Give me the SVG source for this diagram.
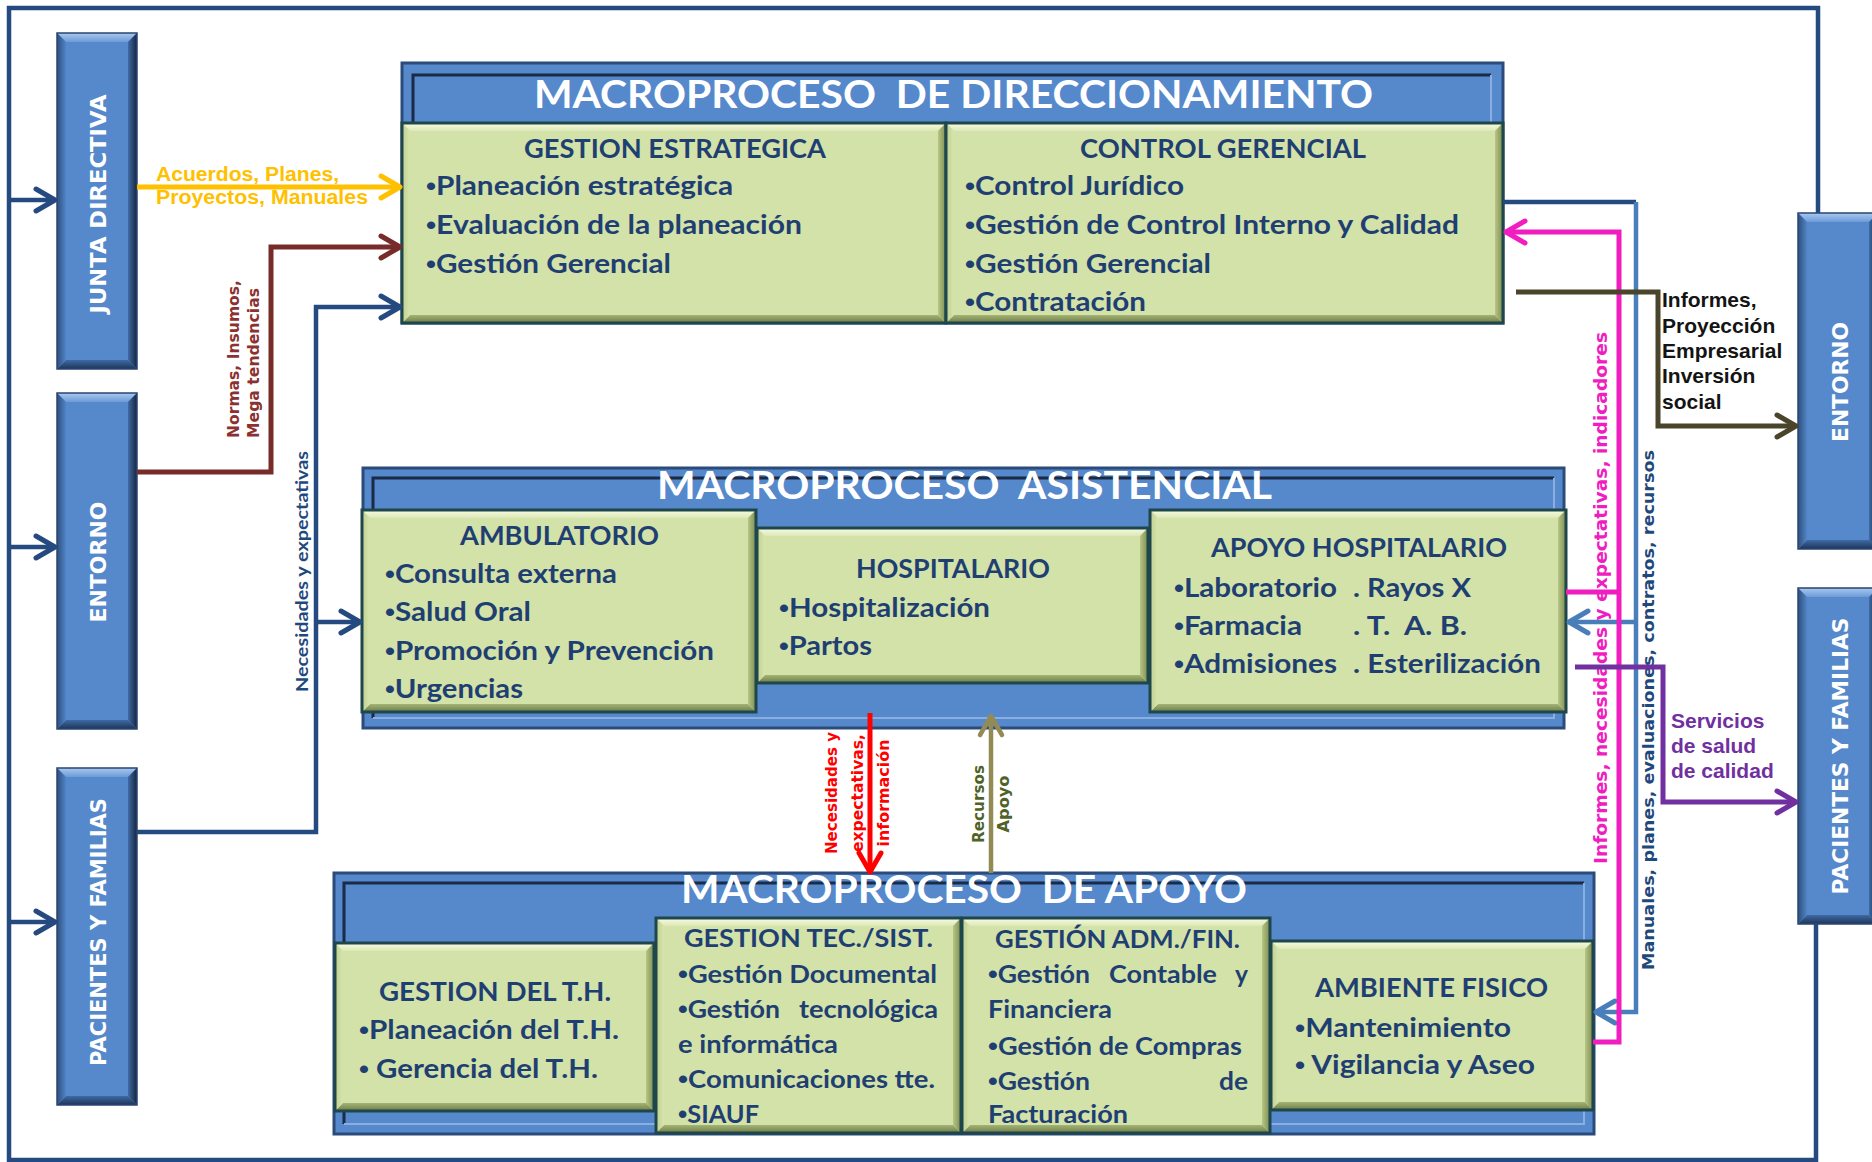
<svg xmlns="http://www.w3.org/2000/svg" width="1872" height="1162" viewBox="0 0 1872 1162">
<defs>
<linearGradient id="gBT" x1="0" y1="0" x2="0" y2="1"><stop offset="0" stop-color="#A9C8EE"/><stop offset="1" stop-color="#6C9BD8"/></linearGradient>
<linearGradient id="gBL" x1="0" y1="0" x2="1" y2="0"><stop offset="0" stop-color="#2D4E7E"/><stop offset="1" stop-color="#5285C6"/></linearGradient>
<linearGradient id="gBR" x1="0" y1="0" x2="1" y2="0"><stop offset="0" stop-color="#3F6BA6"/><stop offset="1" stop-color="#15253D"/></linearGradient>
<linearGradient id="gBB" x1="0" y1="0" x2="0" y2="1"><stop offset="0" stop-color="#3E6AA4"/><stop offset="1" stop-color="#1E3558"/></linearGradient>
<linearGradient id="gGT" x1="0" y1="0" x2="0" y2="1"><stop offset="0" stop-color="#FAFCE2"/><stop offset="1" stop-color="#DCE8B6"/></linearGradient>
<linearGradient id="gGL" x1="0" y1="0" x2="1" y2="0"><stop offset="0" stop-color="#BFD08E"/><stop offset="1" stop-color="#D6E5AE"/></linearGradient>
<linearGradient id="gGR" x1="0" y1="0" x2="1" y2="0"><stop offset="0" stop-color="#B7C684"/><stop offset="1" stop-color="#7D8C52"/></linearGradient>
<linearGradient id="gGB" x1="0" y1="0" x2="0" y2="1"><stop offset="0" stop-color="#A4B474"/><stop offset="1" stop-color="#6E7C47"/></linearGradient>
<marker id="aNavy" markerUnits="userSpaceOnUse" markerWidth="30" markerHeight="30" viewBox="-25 -15 30 30" refX="0" refY="0" orient="auto"><path d="M-19,-11 L0,0 L-19,11" fill="none" stroke="#254A7F" stroke-width="5" stroke-linecap="round" stroke-linejoin="round"/></marker>
<marker id="aYel" markerUnits="userSpaceOnUse" markerWidth="30" markerHeight="30" viewBox="-25 -15 30 30" refX="0" refY="0" orient="auto"><path d="M-19,-11 L0,0 L-19,11" fill="none" stroke="#FFC000" stroke-width="5" stroke-linecap="round" stroke-linejoin="round"/></marker>
<marker id="aBrn" markerUnits="userSpaceOnUse" markerWidth="30" markerHeight="30" viewBox="-25 -15 30 30" refX="0" refY="0" orient="auto"><path d="M-19,-11 L0,0 L-19,11" fill="none" stroke="#772C2A" stroke-width="5" stroke-linecap="round" stroke-linejoin="round"/></marker>
<marker id="aBlu" markerUnits="userSpaceOnUse" markerWidth="30" markerHeight="30" viewBox="-25 -15 30 30" refX="0" refY="0" orient="auto"><path d="M-19,-11 L0,0 L-19,11" fill="none" stroke="#4A7EBB" stroke-width="5" stroke-linecap="round" stroke-linejoin="round"/></marker>
<marker id="aMag" markerUnits="userSpaceOnUse" markerWidth="30" markerHeight="30" viewBox="-25 -15 30 30" refX="0" refY="0" orient="auto"><path d="M-19,-11 L0,0 L-19,11" fill="none" stroke="#F01DC0" stroke-width="5" stroke-linecap="round" stroke-linejoin="round"/></marker>
<marker id="aPur" markerUnits="userSpaceOnUse" markerWidth="30" markerHeight="30" viewBox="-25 -15 30 30" refX="0" refY="0" orient="auto"><path d="M-19,-11 L0,0 L-19,11" fill="none" stroke="#7030A0" stroke-width="5" stroke-linecap="round" stroke-linejoin="round"/></marker>
<marker id="aOlv" markerUnits="userSpaceOnUse" markerWidth="30" markerHeight="30" viewBox="-25 -15 30 30" refX="0" refY="0" orient="auto"><path d="M-19,-11 L0,0 L-19,11" fill="none" stroke="#4A452A" stroke-width="5" stroke-linecap="round" stroke-linejoin="round"/></marker>
<marker id="aRed" markerUnits="userSpaceOnUse" markerWidth="30" markerHeight="30" viewBox="-25 -15 30 30" refX="0" refY="0" orient="auto"><path d="M-19,-11 L0,0 L-19,11" fill="none" stroke="#FF0000" stroke-width="5" stroke-linecap="round" stroke-linejoin="round"/></marker>
<marker id="aKha" markerUnits="userSpaceOnUse" markerWidth="30" markerHeight="30" viewBox="-25 -15 30 30" refX="0" refY="0" orient="auto"><path d="M-19,-11 L0,0 L-19,11" fill="none" stroke="#948A54" stroke-width="4.5" stroke-linecap="round" stroke-linejoin="round"/></marker>
</defs>
<style>
.bf{fill:#5689CB}
.bt{fill:url(#gBT)}
.bl{fill:url(#gBL)}
.br{fill:url(#gBR)}
.bb{fill:url(#gBB)}
.bo{fill:none;stroke:#2A4670;stroke-width:1.5}
.nt{font-family:"DejaVu Sans","Liberation Sans",sans-serif;font-weight:bold;font-size:22px;fill:#FFFFFF}
.gf{fill:#D2E2A8}
.gt{fill:url(#gGT)}
.gl{fill:url(#gGL)}
.gr{fill:url(#gGR)}
.gb{fill:url(#gGB)}
.go{fill:none;stroke:#1E474C;stroke-width:3}
.mf{fill:#5689CB;stroke:#2B4B7B;stroke-width:3}
.mdk{fill:none;stroke:#1B2B45;stroke-width:3}
.mlt{fill:none;stroke:#8AAEDF;stroke-width:2}
.mt{font-family:Lato,"Liberation Sans",sans-serif;font-weight:bold;font-size:39px;fill:#FFFFFF}
.ht{font-family:Lato,"Liberation Sans",sans-serif;font-weight:bold;font-size:26px;fill:#1F3F72}
.it{font-family:Lato,"Liberation Sans",sans-serif;font-weight:bold;font-size:26px;fill:#1F3F72}
.is{font-family:Lato,"Liberation Sans",sans-serif;font-weight:bold;font-size:24px;fill:#1F3F72}
.bu{font-family:"Liberation Sans",sans-serif;font-weight:bold;font-size:25px}
.cn{fill:none;stroke-linejoin:miter}
.cNavy{stroke:#254A7F;stroke-width:4.5}
.cYel{stroke:#FFC000;stroke-width:5}
.cBrn{stroke:#772C2A;stroke-width:5}
.cBlu{stroke:#4A7EBB;stroke-width:4.5}
.cMag{stroke:#F01DC0;stroke-width:5}
.cPur{stroke:#7030A0;stroke-width:5}
.cOlv{stroke:#4A452A;stroke-width:5}
.cRed{stroke:#FF0000;stroke-width:5}
.cKha{stroke:#948A54;stroke-width:4.5}
.lyel{font-family:"Liberation Sans",Arial,sans-serif;font-weight:bold;font-size:20px;fill:#FFC000}
.lbrn{font-family:"DejaVu Sans",sans-serif;font-weight:bold;font-size:15px;fill:#8B3130}
.lnav{font-family:Lato,"Liberation Sans",sans-serif;font-weight:bold;font-size:17px;fill:#1F497D}
.lblu{font-family:"DejaVu Sans",sans-serif;font-weight:bold;font-size:16.5px;fill:#1F497D}
.lmag{font-family:"DejaVu Sans",sans-serif;font-weight:bold;font-size:17.5px;fill:#F01DC0}
.lpur{font-family:"Liberation Sans",Arial,sans-serif;font-weight:bold;font-size:21px;fill:#7030A0}
.lblk{font-family:"Liberation Sans",Arial,sans-serif;font-weight:bold;font-size:21px;fill:#141414}
.lred{font-family:"DejaVu Sans",sans-serif;font-weight:bold;font-size:15px;fill:#FF0000}
.lolv{font-family:"DejaVu Sans",sans-serif;font-weight:bold;font-size:15px;fill:#4F6228}
</style>
<rect x="0" y="0" width="1872" height="1162" fill="#FFFFFF"/>

<!-- Macro containers -->
<g id="macro-direccionamiento">
<rect class="mf" x="402" y="63" width="1101" height="260"/>
<path class="mdk" d="M413,123 V75 H1491"/>
<path class="mlt" d="M1491,75 V123"/>
<text class="mt" x="534" y="108" textLength="839" lengthAdjust="spacingAndGlyphs" xml:space="preserve">MACROPROCESO  DE DIRECCIONAMIENTO</text>
</g>
<g id="macro-asistencial">
<rect class="mf" x="363" y="468" width="1201" height="260"/>
<path class="mdk" d="M373,718 V478 H1554"/>
<path class="mlt" d="M1554,478 V718 H373"/>
<text class="mt" x="657" y="499" textLength="615" lengthAdjust="spacingAndGlyphs" xml:space="preserve">MACROPROCESO  ASISTENCIAL</text>
</g>
<g id="macro-apoyo">
<rect class="mf" x="334" y="873" width="1260" height="261"/>
<path class="mdk" d="M344,1124 V883 H1584"/>
<path class="mlt" d="M1584,883 V1124 H344"/>
<text class="mt" x="681" y="903" textLength="566" lengthAdjust="spacingAndGlyphs" xml:space="preserve">MACROPROCESO  DE APOYO</text>
</g>

<!-- Left / right blue nodes -->
<g id="junta-directiva">
<rect class="bf" x="57" y="33" width="80" height="336"/>
<polygon class="bt" points="57,33 137,33 128,42 66,42"/>
<polygon class="bb" points="57,369 137,369 128,360 66,360"/>
<polygon class="bl" points="57,33 66,42 66,360 57,369"/>
<polygon class="br" points="137,33 128,42 128,360 137,369"/>
<rect class="bo" x="57" y="33" width="80" height="336"/>
<text class="nt" transform="translate(106,204) rotate(-90)" text-anchor="middle" textLength="219" lengthAdjust="spacingAndGlyphs">JUNTA DIRECTIVA</text>
</g>
<g id="entorno-izq">
<rect class="bf" x="57" y="393" width="80" height="336"/>
<polygon class="bt" points="57,393 137,393 128,402 66,402"/>
<polygon class="bb" points="57,729 137,729 128,720 66,720"/>
<polygon class="bl" points="57,393 66,402 66,720 57,729"/>
<polygon class="br" points="137,393 128,402 128,720 137,729"/>
<rect class="bo" x="57" y="393" width="80" height="336"/>
<text class="nt" transform="translate(106,562) rotate(-90)" text-anchor="middle" textLength="121" lengthAdjust="spacingAndGlyphs">ENTORNO</text>
</g>
<g id="pacientes-izq">
<rect class="bf" x="57" y="768" width="80" height="337"/>
<polygon class="bt" points="57,768 137,768 128,777 66,777"/>
<polygon class="bb" points="57,1105 137,1105 128,1096 66,1096"/>
<polygon class="bl" points="57,768 66,777 66,1096 57,1105"/>
<polygon class="br" points="137,768 128,777 128,1096 137,1105"/>
<rect class="bo" x="57" y="768" width="80" height="337"/>
<text class="nt" transform="translate(106,932) rotate(-90)" text-anchor="middle" textLength="268" lengthAdjust="spacingAndGlyphs">PACIENTES Y FAMILIAS</text>
</g>
<g id="entorno-der">
<rect class="bf" x="1798" y="213" width="80" height="336"/>
<polygon class="bt" points="1798,213 1878,213 1869,222 1807,222"/>
<polygon class="bb" points="1798,549 1878,549 1869,540 1807,540"/>
<polygon class="bl" points="1798,213 1807,222 1807,540 1798,549"/>
<polygon class="br" points="1878,213 1869,222 1869,540 1878,549"/>
<rect class="bo" x="1798" y="213" width="80" height="336"/>
<text class="nt" transform="translate(1848,382) rotate(-90)" text-anchor="middle" textLength="120" lengthAdjust="spacingAndGlyphs">ENTORNO</text>
</g>
<g id="pacientes-der">
<rect class="bf" x="1798" y="588" width="80" height="336"/>
<polygon class="bt" points="1798,588 1878,588 1869,597 1807,597"/>
<polygon class="bb" points="1798,924 1878,924 1869,915 1807,915"/>
<polygon class="bl" points="1798,588 1807,597 1807,915 1798,924"/>
<polygon class="br" points="1878,588 1869,597 1869,915 1878,924"/>
<rect class="bo" x="1798" y="588" width="80" height="336"/>
<text class="nt" transform="translate(1848,756) rotate(-90)" text-anchor="middle" textLength="277" lengthAdjust="spacingAndGlyphs">PACIENTES Y FAMILIAS</text>
</g>

<!-- Green process nodes: DIRECCIONAMIENTO -->
<g id="gestion-estrategica">
<rect class="gf" x="402" y="123" width="544" height="200"/>
<polygon class="gt" points="402,123 946,123 938,131 410,131"/>
<polygon class="gb" points="402,323 946,323 938,315 410,315"/>
<polygon class="gl" points="402,123 410,131 410,315 402,323"/>
<polygon class="gr" points="946,123 938,131 938,315 946,323"/>
<rect class="go" x="402" y="123" width="544" height="200"/>
<text class="ht" x="524" y="158" textLength="302" lengthAdjust="spacingAndGlyphs">GESTION ESTRATEGICA</text>
<text class="it" x="426" y="195" textLength="307" lengthAdjust="spacingAndGlyphs"><tspan class="bu">•</tspan>Planeación estratégica</text>
<text class="it" x="426" y="234" textLength="376" lengthAdjust="spacingAndGlyphs"><tspan class="bu">•</tspan>Evaluación de la planeación</text>
<text class="it" x="426" y="273" textLength="245" lengthAdjust="spacingAndGlyphs"><tspan class="bu">•</tspan>Gestión Gerencial</text>
</g>
<g id="control-gerencial">
<rect class="gf" x="946" y="123" width="557" height="200"/>
<polygon class="gt" points="946,123 1503,123 1495,131 954,131"/>
<polygon class="gb" points="946,323 1503,323 1495,315 954,315"/>
<polygon class="gl" points="946,123 954,131 954,315 946,323"/>
<polygon class="gr" points="1503,123 1495,131 1495,315 1503,323"/>
<rect class="go" x="946" y="123" width="557" height="200"/>
<text class="ht" x="1080" y="158" textLength="286" lengthAdjust="spacingAndGlyphs">CONTROL GERENCIAL</text>
<text class="it" x="965" y="195" textLength="219" lengthAdjust="spacingAndGlyphs"><tspan class="bu">•</tspan>Control Jurídico</text>
<text class="it" x="965" y="234" textLength="494" lengthAdjust="spacingAndGlyphs"><tspan class="bu">•</tspan>Gestión de Control Interno y Calidad</text>
<text class="it" x="965" y="273" textLength="246" lengthAdjust="spacingAndGlyphs"><tspan class="bu">•</tspan>Gestión Gerencial</text>
<text class="it" x="965" y="311" textLength="181" lengthAdjust="spacingAndGlyphs"><tspan class="bu">•</tspan>Contratación</text>
</g>

<!-- ASISTENCIAL -->
<g id="ambulatorio">
<rect class="gf" x="362" y="510" width="394" height="202"/>
<polygon class="gt" points="362,510 756,510 748,518 370,518"/>
<polygon class="gb" points="362,712 756,712 748,704 370,704"/>
<polygon class="gl" points="362,510 370,518 370,704 362,712"/>
<polygon class="gr" points="756,510 748,518 748,704 756,712"/>
<rect class="go" x="362" y="510" width="394" height="202"/>
<text class="ht" x="460" y="545" textLength="199" lengthAdjust="spacingAndGlyphs">AMBULATORIO</text>
<text class="it" x="385" y="583" textLength="232" lengthAdjust="spacingAndGlyphs"><tspan class="bu">•</tspan>Consulta externa</text>
<text class="it" x="385" y="621" textLength="146" lengthAdjust="spacingAndGlyphs"><tspan class="bu">•</tspan>Salud Oral</text>
<text class="it" x="385" y="660" textLength="329" lengthAdjust="spacingAndGlyphs"><tspan class="bu">•</tspan>Promoción y Prevención</text>
<text class="it" x="385" y="698" textLength="138" lengthAdjust="spacingAndGlyphs"><tspan class="bu">•</tspan>Urgencias</text>
</g>
<g id="hospitalario">
<rect class="gf" x="757" y="528" width="391" height="155"/>
<polygon class="gt" points="757,528 1148,528 1140,536 765,536"/>
<polygon class="gb" points="757,683 1148,683 1140,675 765,675"/>
<polygon class="gl" points="757,528 765,536 765,675 757,683"/>
<polygon class="gr" points="1148,528 1140,536 1140,675 1148,683"/>
<rect class="go" x="757" y="528" width="391" height="155"/>
<text class="ht" x="856" y="578" textLength="194" lengthAdjust="spacingAndGlyphs">HOSPITALARIO</text>
<text class="it" x="779" y="617" textLength="211" lengthAdjust="spacingAndGlyphs"><tspan class="bu">•</tspan>Hospitalización</text>
<text class="it" x="779" y="655" textLength="93" lengthAdjust="spacingAndGlyphs"><tspan class="bu">•</tspan>Partos</text>
</g>
<g id="apoyo-hospitalario">
<rect class="gf" x="1150" y="510" width="416" height="202"/>
<polygon class="gt" points="1150,510 1566,510 1558,518 1158,518"/>
<polygon class="gb" points="1150,712 1566,712 1558,704 1158,704"/>
<polygon class="gl" points="1150,510 1158,518 1158,704 1150,712"/>
<polygon class="gr" points="1566,510 1558,518 1558,704 1566,712"/>
<rect class="go" x="1150" y="510" width="416" height="202"/>
<text class="ht" x="1211" y="557" textLength="296" lengthAdjust="spacingAndGlyphs">APOYO HOSPITALARIO</text>
<text class="it" x="1174" y="597" textLength="163" lengthAdjust="spacingAndGlyphs"><tspan class="bu">•</tspan>Laboratorio</text>
<text class="it" x="1353" y="597" textLength="118" lengthAdjust="spacingAndGlyphs">. Rayos X</text>
<text class="it" x="1174" y="635" textLength="128" lengthAdjust="spacingAndGlyphs"><tspan class="bu">•</tspan>Farmacia</text>
<text class="it" x="1353" y="635" textLength="114" lengthAdjust="spacingAndGlyphs" xml:space="preserve">. T.  A. B.</text>
<text class="it" x="1174" y="673" textLength="163" lengthAdjust="spacingAndGlyphs"><tspan class="bu">•</tspan>Admisiones</text>
<text class="it" x="1353" y="673" textLength="188" lengthAdjust="spacingAndGlyphs">. Esterilización</text>
</g>

<!-- APOYO -->
<g id="gestion-th">
<rect class="gf" x="335" y="943" width="319" height="168"/>
<polygon class="gt" points="335,943 654,943 646,951 343,951"/>
<polygon class="gb" points="335,1111 654,1111 646,1103 343,1103"/>
<polygon class="gl" points="335,943 343,951 343,1103 335,1111"/>
<polygon class="gr" points="654,943 646,951 646,1103 654,1111"/>
<rect class="go" x="335" y="943" width="319" height="168"/>
<text class="ht" x="379" y="1001" textLength="232" lengthAdjust="spacingAndGlyphs">GESTION DEL T.H.</text>
<text class="it" x="359" y="1039" textLength="260" lengthAdjust="spacingAndGlyphs"><tspan class="bu">•</tspan>Planeación del T.H.</text>
<text class="it" x="359" y="1078" textLength="239" lengthAdjust="spacingAndGlyphs" xml:space="preserve"><tspan class="bu">•</tspan> Gerencia del T.H.</text>
</g>
<g id="gestion-tec-sist">
<rect class="gf" x="656" y="918" width="305" height="215"/>
<polygon class="gt" points="656,918 961,918 953,926 664,926"/>
<polygon class="gb" points="656,1133 961,1133 953,1125 664,1125"/>
<polygon class="gl" points="656,918 664,926 664,1125 656,1133"/>
<polygon class="gr" points="961,918 953,926 953,1125 961,1133"/>
<rect class="go" x="656" y="918" width="305" height="215"/>
<text class="is" x="684" y="947" textLength="249" lengthAdjust="spacingAndGlyphs">GESTION TEC./SIST.</text>
<text class="is" x="678" y="983" textLength="259" lengthAdjust="spacingAndGlyphs"><tspan class="bu">•</tspan>Gestión Documental</text>
<text class="is" x="678" y="1018" textLength="102" lengthAdjust="spacingAndGlyphs"><tspan class="bu">•</tspan>Gestión</text>
<text class="is" x="799" y="1018" textLength="139" lengthAdjust="spacingAndGlyphs">tecnológica</text>
<text class="is" x="678" y="1053" textLength="160" lengthAdjust="spacingAndGlyphs">e informática</text>
<text class="is" x="678" y="1088" textLength="257" lengthAdjust="spacingAndGlyphs"><tspan class="bu">•</tspan>Comunicaciones tte.</text>
<text class="is" x="678" y="1123" textLength="81" lengthAdjust="spacingAndGlyphs"><tspan class="bu">•</tspan>SIAUF</text>
</g>
<g id="gestion-adm-fin">
<rect class="gf" x="962" y="918" width="308" height="215"/>
<polygon class="gt" points="962,918 1270,918 1262,926 970,926"/>
<polygon class="gb" points="962,1133 1270,1133 1262,1125 970,1125"/>
<polygon class="gl" points="962,918 970,926 970,1125 962,1133"/>
<polygon class="gr" points="1270,918 1262,926 1262,1125 1270,1133"/>
<rect class="go" x="962" y="918" width="308" height="215"/>
<text class="is" x="995" y="948" textLength="245" lengthAdjust="spacingAndGlyphs">GESTIÓN ADM./FIN.</text>
<text class="is" x="988" y="983" textLength="102" lengthAdjust="spacingAndGlyphs"><tspan class="bu">•</tspan>Gestión</text>
<text class="is" x="1109" y="983" textLength="108" lengthAdjust="spacingAndGlyphs">Contable</text>
<text class="is" x="1235" y="983" textLength="13" lengthAdjust="spacingAndGlyphs">y</text>
<text class="is" x="988" y="1018" textLength="124" lengthAdjust="spacingAndGlyphs">Financiera</text>
<text class="is" x="988" y="1055" textLength="254" lengthAdjust="spacingAndGlyphs"><tspan class="bu">•</tspan>Gestión de Compras</text>
<text class="is" x="988" y="1090" textLength="102" lengthAdjust="spacingAndGlyphs"><tspan class="bu">•</tspan>Gestión</text>
<text class="is" x="1219" y="1090" textLength="29" lengthAdjust="spacingAndGlyphs">de</text>
<text class="is" x="988" y="1123" textLength="140" lengthAdjust="spacingAndGlyphs">Facturación</text>
</g>
<g id="ambiente-fisico">
<rect class="gf" x="1271" y="941" width="322" height="169"/>
<polygon class="gt" points="1271,941 1593,941 1585,949 1279,949"/>
<polygon class="gb" points="1271,1110 1593,1110 1585,1102 1279,1102"/>
<polygon class="gl" points="1271,941 1279,949 1279,1102 1271,1110"/>
<polygon class="gr" points="1593,941 1585,949 1585,1102 1593,1110"/>
<rect class="go" x="1271" y="941" width="322" height="169"/>
<text class="ht" x="1315" y="997" textLength="233" lengthAdjust="spacingAndGlyphs">AMBIENTE FISICO</text>
<text class="it" x="1295" y="1037" textLength="216" lengthAdjust="spacingAndGlyphs"><tspan class="bu">•</tspan>Mantenimiento</text>
<text class="it" x="1295" y="1074" textLength="240" lengthAdjust="spacingAndGlyphs" xml:space="preserve"><tspan class="bu">•</tspan> Vigilancia y Aseo</text>
</g>

<!-- Connectors -->
<g id="connectors">
<text class="lyel" x="156" y="181" textLength="183" lengthAdjust="spacingAndGlyphs">Acuerdos, Planes,</text>
<text class="lyel" x="156" y="204" textLength="212" lengthAdjust="spacingAndGlyphs">Proyectos, Manuales</text>
<text class="lbrn" transform="translate(239,438) rotate(-90)" textLength="158" lengthAdjust="spacingAndGlyphs">Normas, Insumos,</text>
<text class="lbrn" transform="translate(259,438) rotate(-90)" textLength="150" lengthAdjust="spacingAndGlyphs">Mega tendencias</text>
<text class="lnav" transform="translate(308,692) rotate(-90)" textLength="241" lengthAdjust="spacingAndGlyphs">Necesidades y expectativas</text>
<text class="lmag" transform="translate(1607,864) rotate(-90)" textLength="532" lengthAdjust="spacingAndGlyphs">Informes, necesidades y expectativas, indicadores</text>
<text class="lblu" transform="translate(1654,970) rotate(-90)" textLength="520" lengthAdjust="spacingAndGlyphs">Manuales, planes, evaluaciones, contratos, recursos</text>
<text class="lblk" x="1662" y="307">Informes,</text>
<text class="lblk" x="1662" y="333">Proyección</text>
<text class="lblk" x="1662" y="358">Empresarial</text>
<text class="lblk" x="1662" y="383">Inversión</text>
<text class="lblk" x="1662" y="409">social</text>
<text class="lpur" x="1671" y="728">Servicios</text>
<text class="lpur" x="1671" y="753">de salud</text>
<text class="lpur" x="1671" y="778">de calidad</text>
<text class="lred" transform="translate(837,793) rotate(-90)" text-anchor="middle" textLength="122" lengthAdjust="spacingAndGlyphs">Necesidades y</text>
<text class="lred" transform="translate(863,793) rotate(-90)" text-anchor="middle" textLength="118" lengthAdjust="spacingAndGlyphs">expectativas,</text>
<text class="lred" transform="translate(889,793) rotate(-90)" text-anchor="middle" textLength="107" lengthAdjust="spacingAndGlyphs">información</text>
<text class="lolv" transform="translate(984,804) rotate(-90)" text-anchor="middle" textLength="78" lengthAdjust="spacingAndGlyphs">Recursos</text>
<text class="lolv" transform="translate(1009,804) rotate(-90)" text-anchor="middle" textLength="57" lengthAdjust="spacingAndGlyphs">Apoyo</text>

<path class="cn cNavy" d="M1818,213 V8 H9 V1160 H1816 V924"/>
<path class="cn cNavy" d="M9,200 H55" marker-end="url(#aNavy)"/>
<path class="cn cNavy" d="M9,547 H55" marker-end="url(#aNavy)"/>
<path class="cn cNavy" d="M9,922 H55" marker-end="url(#aNavy)"/>
<path class="cn cYel" d="M137,187 H400" marker-end="url(#aYel)"/>
<path class="cn cBrn" d="M137,472 H271 V247 H400" marker-end="url(#aBrn)"/>
<path class="cn cNavy" d="M137,832 H316 V307 H400" marker-end="url(#aNavy)"/>
<path class="cn cNavy" d="M316,622 H360" marker-end="url(#aNavy)"/>
<path class="cn cNavy" d="M1503,202 H1636"/>
<path class="cn cBlu" d="M1636,202 V1012 H1596" marker-end="url(#aBlu)"/>
<path class="cn cBlu" d="M1636,622 H1569" marker-end="url(#aBlu)"/>
<path class="cn cMag" d="M1593,1042 H1619 V232 H1506" marker-end="url(#aMag)"/>
<path class="cn cMag" d="M1566,592 H1619"/>
<path class="cn cPur" d="M1575,667 H1663 V802 H1796" marker-end="url(#aPur)"/>
<path class="cn cOlv" d="M1516,292 H1658 V426 H1796" marker-end="url(#aOlv)"/>
<path class="cn cRed" d="M870,713 V872" marker-end="url(#aRed)"/>
<path class="cn cKha" d="M991,873 V716" marker-end="url(#aKha)"/>
</g>
</svg>
